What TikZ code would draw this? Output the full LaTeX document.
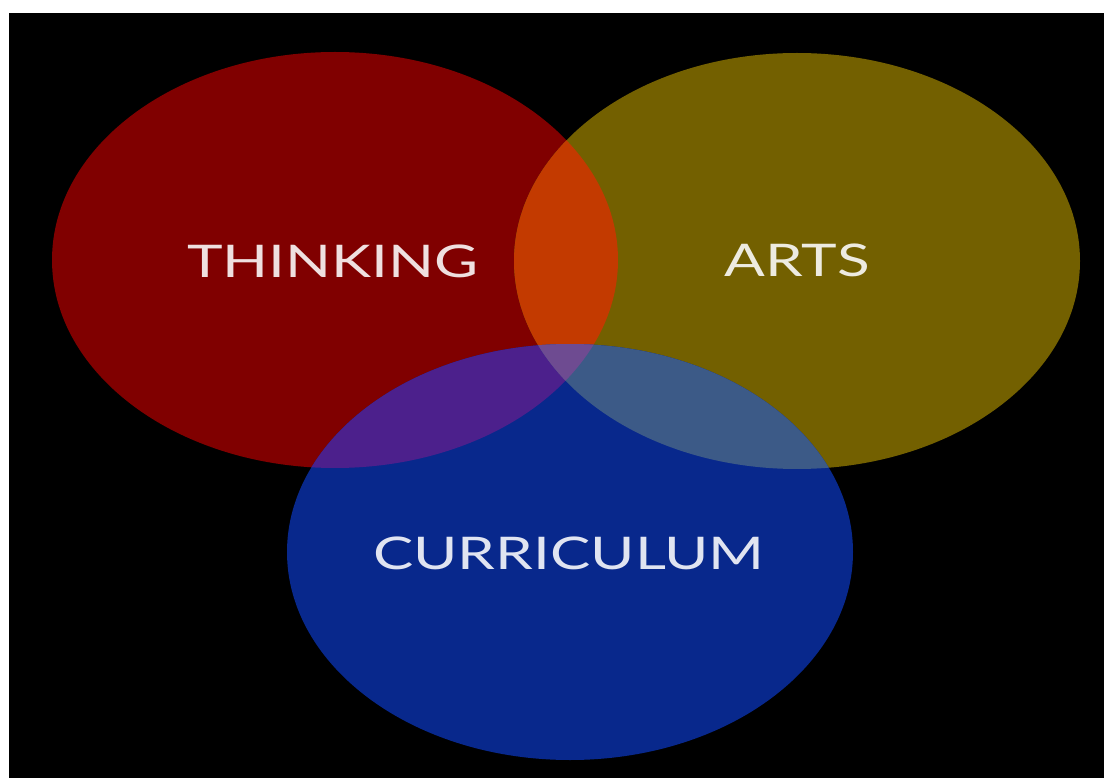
\documentclass[tikz,border=0pt]{standalone}
\usepackage{fontspec}
\setmainfont{Lato}
\definecolor{cred}{RGB}{128,0,0}
\definecolor{colive}{RGB}{115,96,0}
\definecolor{cblue}{RGB}{8,40,140}
\definecolor{cro}{RGB}{195,58,0}
\definecolor{crb}{RGB}{76,32,140}
\definecolor{cob}{RGB}{60,90,135}
\definecolor{crob}{RGB}{110,75,145}
\begin{document}
\begin{tikzpicture}[x=1pt,y=-1pt,
  lbl/.style={text=white,text opacity=0.88,font=\fontsize{45}{45}\selectfont,inner sep=0pt,xscale=1.34}]
\useasboundingbox (0,0) rectangle (1104,778);
\fill[white] (0,0) rectangle (1104,778);
\fill[black] (9,13) rectangle (1104,778);
\def\redE{(335,260) ellipse [x radius=283,y radius=208]}
\def\oliveE{(797,261) ellipse [x radius=283,y radius=208]}
\def\blueE{(570,552) ellipse [x radius=283,y radius=208]}
\fill[cred] \redE;
\fill[colive] \oliveE;
\fill[cblue] \blueE;
\begin{scope}\clip \redE; \fill[cro] \oliveE; \end{scope}
\begin{scope}\clip \redE; \fill[crb] \blueE; \end{scope}
\begin{scope}\clip \oliveE; \fill[cob] \blueE; \end{scope}
\begin{scope}\clip \redE; \clip \oliveE; \fill[crob] \blueE; \end{scope}
\node[lbl] (thinking) at (333,261) {THINKING};
\node[lbl] (arts) at (797,260) {ARTS};
\node[lbl] (curriculum) at (569,553) {CURRICULUM};
\end{tikzpicture}
\end{document}
